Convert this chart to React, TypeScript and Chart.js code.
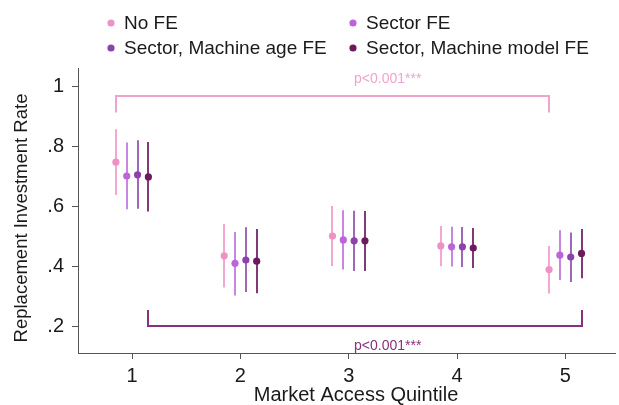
import React, { useEffect, useRef } from "react";
import { Chart, registerables } from "chart.js";

Chart.register(...registerables);

// Market access quintiles and the x shift of each specification within a group
const quintiles = [1, 2, 3, 4, 5];
const xOffsets = [-0.15, -0.05, 0.05, 0.15];

const seriesLabels = ["No FE", "Sector FE", "Sector, Machine age FE", "Sector, Machine model FE"];

// Point estimates and 95% confidence bounds per specification
const noFE = [0.746, 0.434, 0.5, 0.467, 0.388];
const noFELo = [0.637, 0.328, 0.4, 0.399, 0.308];
const noFEHi = [0.856, 0.54, 0.6, 0.533, 0.467];

const sectorFE = [0.7, 0.409, 0.487, 0.464, 0.436];
const sectorFELo = [0.589, 0.302, 0.388, 0.398, 0.353];
const sectorFEHi = [0.812, 0.513, 0.586, 0.531, 0.519];

const machineAgeFE = [0.704, 0.42, 0.484, 0.464, 0.43];
const machineAgeFELo = [0.591, 0.313, 0.383, 0.397, 0.347];
const machineAgeFEHi = [0.819, 0.529, 0.584, 0.53, 0.512];

const machineModelFE = [0.697, 0.416, 0.484, 0.46, 0.442];
const machineModelFELo = [0.582, 0.309, 0.383, 0.393, 0.359];
const machineModelFEHi = [0.813, 0.523, 0.583, 0.527, 0.523];

// Axis ticks
const xTickValues = [1, 2, 3, 4, 5];
const yTickValues = [0.2, 0.4, 0.6, 0.8, 1];

// Significance brackets (quintile 1 vs quintile 5)
const topBracketX = [0.85, 4.85];
const topBracketY = [0.912, 0.967];
const bottomBracketX = [1.15, 5.15];
const bottomBracketY = [0.253, 0.2];
const pValueText = "p<0.001***";

const dotColors = ["#ee91c4", "#bd64dc", "#8c42ab", "#6b1b5c"];
const barColors = ["#f2a8d1", "#c686e2", "#a066bc", "#82397a"];
const topBracketColor = "#f0a3cd";
const bottomBracketColor = "#88307a";

const FONT = "'Liberation Sans', Arial, Helvetica, sans-serif";
const TEXT = "#1a1a1a";
const AXIS = "#555555";

const means = [noFE, sectorFE, machineAgeFE, machineModelFE];
const lows = [noFELo, sectorFELo, machineAgeFELo, machineModelFELo];
const highs = [noFEHi, sectorFEHi, machineAgeFEHi, machineModelFEHi];

const overlay = {
  id: "overlay",
  beforeDatasetsDraw(chart: any) {
    const { ctx, scales } = chart;
    const x = scales.x;
    const y = scales.y;
    ctx.save();
    ctx.lineWidth = 2;
    ctx.lineCap = "butt";
    means.forEach((_, si) => {
      ctx.strokeStyle = barColors[si];
      quintiles.forEach((q, i) => {
        const px = Math.round(x.getPixelForValue(q + xOffsets[si]));
        ctx.beginPath();
        ctx.moveTo(px, y.getPixelForValue(lows[si][i]));
        ctx.lineTo(px, y.getPixelForValue(highs[si][i]));
        ctx.stroke();
      });
    });

    const bracket = (bx: number[], by: number[], color: string) => {
      const x0 = Math.round(x.getPixelForValue(bx[0]));
      const x1 = Math.round(x.getPixelForValue(bx[1]));
      const yEnd = y.getPixelForValue(by[0]);
      const yBar = Math.round(y.getPixelForValue(by[1]));
      ctx.strokeStyle = color;
      ctx.lineJoin = "miter";
      ctx.beginPath();
      ctx.moveTo(x0, yEnd);
      ctx.lineTo(x0, yBar);
      ctx.lineTo(x1, yBar);
      ctx.lineTo(x1, yEnd);
      ctx.stroke();
    };
    bracket(topBracketX, topBracketY, topBracketColor);
    bracket(bottomBracketX, bottomBracketY, bottomBracketColor);

    ctx.font = `14px ${FONT}`;
    ctx.textAlign = "center";
    ctx.textBaseline = "middle";
    ctx.fillStyle = topBracketColor;
    ctx.fillText(pValueText, x.getPixelForValue(3.36), y.getPixelForValue(1.024));
    ctx.fillStyle = bottomBracketColor;
    ctx.fillText(pValueText, x.getPixelForValue(3.36), y.getPixelForValue(0.134));
    ctx.restore();
  },
  afterDraw(chart: any) {
    const { ctx } = chart;
    ctx.save();
    // legend, two columns by two rows
    const cols = [111, 353];
    const rows = [23, 48];
    ctx.font = `19px ${FONT}`;
    ctx.textBaseline = "middle";
    ctx.textAlign = "left";
    seriesLabels.forEach((label, i) => {
      const cx = cols[i % 2];
      const cy = rows[Math.floor(i / 2)];
      ctx.fillStyle = dotColors[i];
      ctx.beginPath();
      ctx.arc(cx, cy, 3.6, 0, Math.PI * 2);
      ctx.fill();
      ctx.fillStyle = TEXT;
      ctx.fillText(label, cx + 13, cy + 1);
    });

    // axis titles
    ctx.font = `20px ${FONT}`;
    ctx.textAlign = "center";
    ctx.fillText("Market Access Quintile", 356, 395);
    ctx.font = `18.5px ${FONT}`;
    ctx.translate(22, 218);
    ctx.rotate(-Math.PI / 2);
    ctx.fillText("Replacement Investment Rate", 0, 0);
    ctx.restore();
  },
};

export default function App() {
  const canvasRef = useRef<HTMLCanvasElement | null>(null);

  useEffect(() => {
    const canvas = canvasRef.current;
    if (!canvas) return;
    const datasets = means.map((vals, si) => ({
      label: seriesLabels[si],
      data: quintiles.map((q, i) => ({ x: q + xOffsets[si], y: vals[i] })),
      backgroundColor: dotColors[si],
      borderColor: dotColors[si],
      pointRadius: 3.6,
      pointBorderWidth: 0,
      showLine: false,
    }));

    const chart = new Chart(canvas, {
      type: "scatter",
      data: { datasets },
      plugins: [overlay],
      options: {
        animation: false,
        responsive: false,
        devicePixelRatio: 1,
        layout: { padding: { top: 68, left: 0, right: 0, bottom: 0 } },
        plugins: { legend: { display: false }, tooltip: { enabled: false } },
        scales: {
          x: {
            type: "linear",
            min: 0.5,
            max: 5.459,
            afterBuildTicks: (s: any) => {
              s.ticks = xTickValues.map((v) => ({ value: v }));
            },
            afterFit: (s: any) => {
              s.height = 52;
            },
            ticks: {
              font: { family: FONT, size: 20 },
              color: TEXT,
              padding: 5,
              callback: (v: any) => String(v),
            },
            grid: { drawOnChartArea: false, drawTicks: true, tickLength: 6, color: AXIS, lineWidth: 1 },
            border: { display: true, color: AXIS, width: 1 },
          },
          y: {
            type: "linear",
            min: 0.11,
            max: 1.06,
            afterBuildTicks: (s: any) => {
              s.ticks = yTickValues.map((v) => ({ value: v }));
            },
            afterFit: (s: any) => {
              s.width = 78;
            },
            ticks: {
              font: { family: FONT, size: 20 },
              color: TEXT,
              padding: 8,
              callback: (v: any) => (Number(v) >= 1 ? "1" : Number(v).toFixed(1).replace(/^0/, "")),
            },
            grid: { drawOnChartArea: false, drawTicks: true, tickLength: 6, color: AXIS, lineWidth: 1 },
            border: { display: true, color: AXIS, width: 1 },
          },
        },
      },
    });
    return () => chart.destroy();
  }, []);

  return (
    <div style={{ position: "absolute", left: 0, top: 0, width: 619, height: 405, background: "#fff" }}>
      <canvas ref={canvasRef} width={619} height={405} />
    </div>
  );
}
